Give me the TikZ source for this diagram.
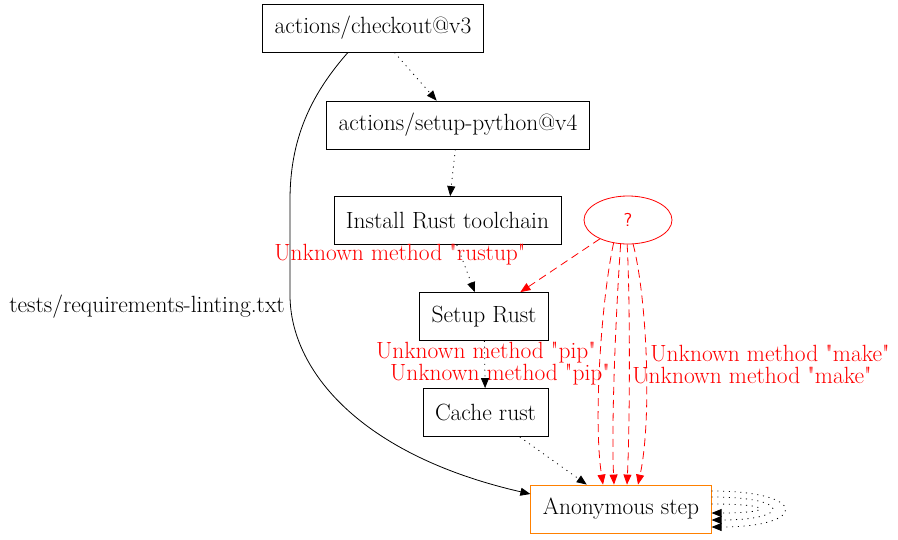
\documentclass[tikz,border=0pt]{standalone}
\usetikzlibrary{arrows.meta,calc,shapes.geometric}

\begin{document}
\begin{tikzpicture}[x=0.75pt,y=-0.75pt,
  every node/.style={font=\fontsize{17.6}{21}\selectfont},
  stepbox/.style={draw,rectangle,line width=0.6pt,minimum height=36pt,inner xsep=9pt},
  flow/.style={-{Triangle[length=7.5pt,width=6pt]},line width=0.6pt,dash pattern=on 0.8pt off 3.5pt},
  unknown/.style={-{Triangle[length=7.5pt,width=6pt]},red,line width=0.6pt,dash pattern=on 6pt off 3.75pt},
  warn/.style={text=red,inner sep=0pt}]
  \useasboundingbox (0,0) rectangle (898,539);
  % steps
  \node[stepbox] (checkout) at (373,28) {actions/checkout@v3};
  \node[stepbox] (python) at (458,125) {actions/setup-python@v4};
  \node[stepbox] (toolchain) at (447.5,220.5) {Install Rust toolchain};
  \node[draw=red,text=red,ellipse,line width=0.6pt,minimum width=66pt,minimum height=36pt,inner sep=0pt,font=\fontsize{14}{17}\selectfont\sffamily] (unk) at (628,220) {?};
  \node[stepbox] (setuprust) at (484,316.5) {Setup Rust};
  \node[stepbox] (cache) at (485.5,412.5) {Cache rust};
  \node[stepbox,draw=orange] (anon) at (621,509) {Anonymous step};
  % labels
  \node (reqlbl) at (147,307) {tests/requirements-linting.txt};
  \node[warn] (rustuplbl) at (400,255) {Unknown method \textquotedbl rustup\textquotedbl};
  \node[warn] (piplbla) at (486,353) {Unknown method \textquotedbl pip\textquotedbl};
  \node[warn] (piplblb) at (500,375) {Unknown method \textquotedbl pip\textquotedbl};
  \node[warn] (makelbla) at (770,353) {Unknown method \textquotedbl make\textquotedbl};
  \node[warn] (makelblb) at (752,375) {Unknown method \textquotedbl make\textquotedbl};
  % edges
  \draw[flow] (checkout) -- (python);
  \draw[flow] (python) -- (toolchain);
  \draw[flow] (toolchain) -- (setuprust);
  \draw[flow] (setuprust) -- (cache);
  \draw[flow] (cache) -- (anon);
  \draw[-{Triangle[length=7.5pt,width=6pt]},line width=0.6pt] ($(checkout.south)+(-25,0)$)
    .. controls +(-38,43) and (290,140) .. (290,200) -- (290,295)
    .. controls (290,370) and (360,455) .. ($(anon.west)+(0,-15)$);
  \draw[unknown] (unk) -- (setuprust);
  \draw[unknown] (unk.238) .. controls +(-12,55) and +(-10,-65) .. ($(anon.north)+(-18,0)$);
  \draw[unknown] (unk.253) .. controls +(-4,55) and +(-3,-65) .. ($(anon.north)+(-7,0)$);
  \draw[unknown] (unk.268) .. controls +(3,55) and +(3,-65) .. ($(anon.north)+(6,0)$);
  \draw[unknown] (unk.282) .. controls +(14,55) and +(14,-65) .. ($(anon.north)+(17,0)$);
  % self loops
  \draw[flow] ($(anon.east)+(0,-18)$) .. controls +(97,0) and +(97,0) .. ($(anon.east)+(0,18)$);
  \draw[flow] ($(anon.east)+(0,-12)$) .. controls +(80,0) and +(80,0) .. ($(anon.east)+(0,11)$);
  \draw[flow] ($(anon.east)+(0,-5)$) .. controls +(63,0) and +(63,0) .. ($(anon.east)+(0,4)$);
\end{tikzpicture}
\end{document}
